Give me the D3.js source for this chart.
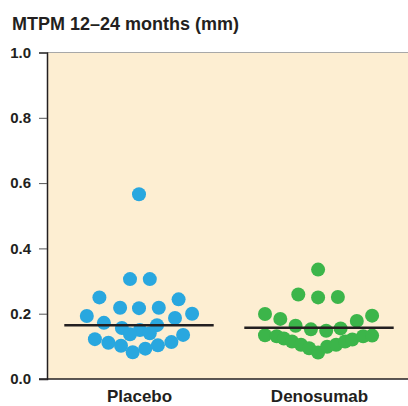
<!DOCTYPE html>
<html>
<head>
<meta charset="utf-8">
<script src="https://cdn.jsdelivr.net/npm/d3@7"></script>
<style>
  html, body { margin: 0; padding: 0; background: #fff; }
  svg { display: block; font-family: "Liberation Sans", Arial, Helvetica, sans-serif; }
</style>
</head>
<body>
<svg width="408" height="406"></svg>
<script>
'use strict';

var categories = ['Placebo', 'Denosumab'];
var yTicks = [0, 0.2, 0.4, 0.6, 0.8, 1.0];
var medians = [0.165, 0.157];

// MTPM values per patient, and horizontal spread of each dot (fraction of half band)
var placeboValues = [0.566, 0.306, 0.306, 0.250, 0.244, 0.218, 0.217, 0.218, 0.193, 0.200,
  0.172, 0.187, 0.165, 0.156, 0.150, 0.137, 0.140, 0.135, 0.122, 0.111,
  0.102, 0.082, 0.093, 0.103, 0.113];
var placeboSpread = [0.00, -0.10, 0.12, -0.44, 0.44, -0.21, 0.00, 0.22, -0.58, 0.59,
  -0.39, 0.40, 0.20, -0.19, 0.01, -0.10, 0.12, 0.49, -0.49, -0.34,
  -0.20, -0.07, 0.07, 0.21, 0.36];

var denosumabValues = [0.335, 0.259, 0.250, 0.251, 0.199, 0.184, 0.163, 0.152, 0.148, 0.155,
  0.178, 0.194, 0.134, 0.131, 0.124, 0.115, 0.105, 0.094, 0.081, 0.099,
  0.105, 0.115, 0.121, 0.131, 0.133];
var denosumabSpread = [-0.01, -0.23, -0.01, 0.21, -0.60, -0.43, -0.26, -0.09, 0.08, 0.24,
  0.42, 0.59, -0.60, -0.47, -0.39, -0.30, -0.20, -0.11, -0.01, 0.09,
  0.19, 0.29, 0.37, 0.49, 0.59];

var colors = ['#29a7df', '#3cb54a'];

var svg = d3.select('svg'),
  width = +svg.attr('width'),
  height = +svg.attr('height');

var plotLeft = 47, plotRight = width, plotTop = 52.5, plotBottom = 379;

var x = d3.scalePoint().domain(categories).range([49, 409]).padding(0.5);
var halfBand = x.step() / 2;
var spread = d3.scaleLinear().domain([-1, 1]).range([-halfBand, halfBand]);
var y = d3.scaleLinear().domain([0, 1]).range([plotBottom, plotTop]);

// panel
svg.append('rect')
  .attr('x', plotLeft).attr('y', plotTop)
  .attr('width', plotRight - plotLeft).attr('height', plotBottom - plotTop)
  .attr('fill', '#fdeed2');
svg.append('line')
  .attr('x1', plotLeft).attr('x2', plotRight)
  .attr('y1', plotTop).attr('y2', plotTop)
  .attr('stroke', '#a8a8a8').attr('stroke-width', 1.2);

// title
svg.append('text')
  .attr('x', 12).attr('y', 30)
  .attr('font-size', 18).attr('font-weight', 'bold')
  .attr('fill', '#231f20')
  .text('MTPM 12\u201324 months (mm)');

// y axis
var yAxis = svg.append('g')
  .attr('transform', 'translate(' + plotLeft + ',0)')
  .call(d3.axisLeft(y).tickValues(yTicks).tickFormat(d3.format('.1f')).tickSizeOuter(0).tickSize(8).tickPadding(8));
yAxis.select('.domain').attr('stroke', '#231f20').attr('stroke-width', 1.5);
yAxis.selectAll('.tick line').attr('stroke', '#555').attr('stroke-width', 1);
yAxis.selectAll('.tick text')
  .attr('font-size', 15).attr('font-weight', 'bold')
  .attr('font-family', '"Liberation Sans", Arial, sans-serif')
  .attr('fill', '#231f20');

// x axis
var xAxis = svg.append('g')
  .attr('transform', 'translate(0,' + plotBottom + ')')
  .call(d3.axisBottom(x).tickSize(0).tickPadding(11));
xAxis.select('.domain').remove();
xAxis.selectAll('.tick text')
  .attr('font-size', 17).attr('font-weight', 'bold')
  .attr('font-family', '"Liberation Sans", Arial, sans-serif')
  .attr('fill', '#231f20');
svg.append('line')
  .attr('x1', plotLeft - 8).attr('x2', plotRight)
  .attr('y1', plotBottom).attr('y2', plotBottom)
  .attr('stroke', '#231f20').attr('stroke-width', 1.5);

// dots
var groups = [
  { name: categories[0], values: placeboValues, spread: placeboSpread, color: colors[0] },
  { name: categories[1], values: denosumabValues, spread: denosumabSpread, color: colors[1] }
];

groups.forEach(function (g) {
  svg.append('g').selectAll('circle')
    .data(g.values)
    .join('circle')
    .attr('cx', function (d, i) { return x(g.name) + spread(g.spread[i]); })
    .attr('cy', function (d) { return y(d); })
    .attr('r', 7)
    .attr('fill', g.color);
});

// median lines
svg.append('g').selectAll('line')
  .data(medians)
  .join('line')
  .attr('x1', function (d, i) { return x(categories[i]) - halfBand * 0.83; })
  .attr('x2', function (d, i) { return x(categories[i]) + halfBand * 0.83; })
  .attr('y1', function (d) { return y(d); })
  .attr('y2', function (d) { return y(d); })
  .attr('stroke', '#231f20')
  .attr('stroke-width', 2.5);
</script>
</body>
</html>
